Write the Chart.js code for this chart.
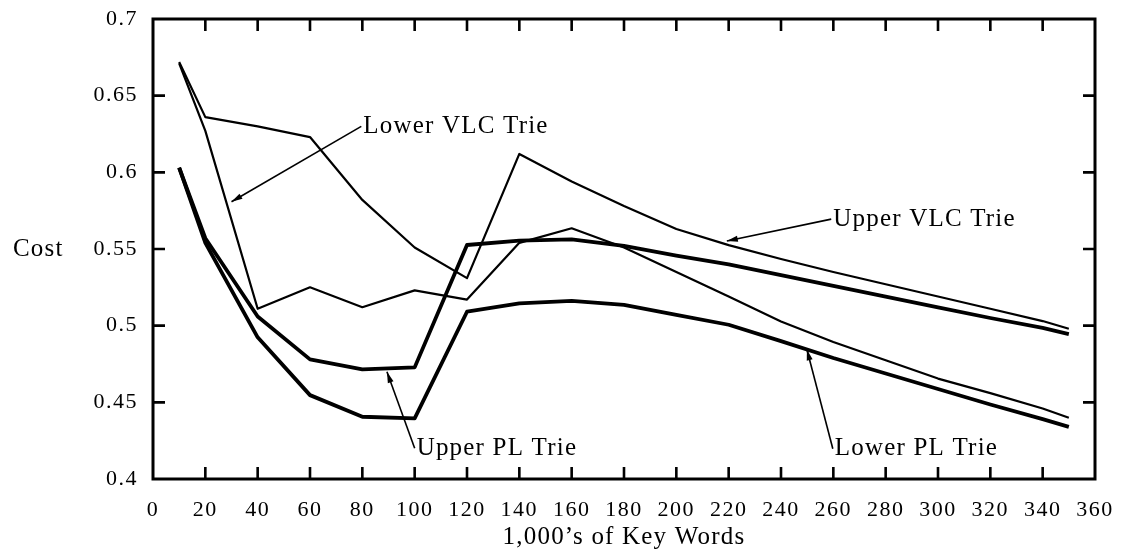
<!DOCTYPE html>
<html>
<head>
<meta charset="utf-8">
<script src="https://cdn.jsdelivr.net/npm/chart.js@4.4.1/dist/chart.umd.min.js"></script>
<style>
html,body{margin:0;padding:0;background:#fff;}
</style>
</head>
<body>
<canvas id="costChart" width="1125" height="550"></canvas>
<script>
// 1,000's of key words
const keyWords = [10,20,40,60,80,100,120,140,160,180,200,220,240,260,280,300,320,340,350];

const upperVLC = [0.672,0.636,0.630,0.623,0.582,0.551,0.531,0.612,0.594,0.578,0.563,0.5525,0.5435,0.535,0.527,0.519,0.511,0.503,0.498];
const lowerVLC = [0.671,0.627,0.511,0.525,0.512,0.523,0.517,0.554,0.5635,0.551,0.535,0.519,0.5027,0.4893,0.4774,0.4655,0.456,0.446,0.440];
const upperPL  = [0.603,0.557,0.506,0.478,0.4715,0.4728,0.5526,0.5555,0.5563,0.552,0.5457,0.540,0.533,0.526,0.519,0.512,0.505,0.4985,0.4945];
const lowerPL  = [0.603,0.554,0.4924,0.4547,0.4406,0.4395,0.5091,0.5145,0.5162,0.5135,0.507,0.5006,0.4899,0.4789,0.4688,0.4587,0.4486,0.439,0.434];

const xTicks = [0,20,40,60,80,100,120,140,160,180,200,220,240,260,280,300,320,340,360];
const yTicks = [0.4,0.45,0.5,0.55,0.6,0.65,0.7];

// labels with arrows: [x, cost] where the arrow starts, [x, cost] where it points
const notes = [
    {text:"Lower VLC Trie", from:[79.6,0.630], tip:[30,0.5808]},
    {text:"Upper VLC Trie", from:[259.2,0.5695], tip:[219.3,0.5552]},
    {text:"Upper PL Trie",  from:[100,0.4200], tip:[89.4,0.4699]},
    {text:"Lower PL Trie",  from:[259.8,0.4197], tip:[249.9,0.4845]}
];

const serif = "'Liberation Serif','Times New Roman',serif";

const toPts = ys => keyWords.map((x,i)=>({x:x, y:ys[i]}));

function arrow(ctx, x1, y1, x2, y2){
    ctx.beginPath();
    ctx.moveTo(x1,y1);
    ctx.lineTo(x2,y2);
    ctx.stroke();
    const a = Math.atan2(y2-y1, x2-x1);
    const len = 11, half = 3;
    const bx = x2 - len*Math.cos(a), by = y2 - len*Math.sin(a);
    ctx.beginPath();
    ctx.moveTo(x2,y2);
    ctx.lineTo(bx + half*Math.sin(a), by - half*Math.cos(a));
    ctx.lineTo(bx - half*Math.sin(a), by + half*Math.cos(a));
    ctx.closePath();
    ctx.fill();
}

/* frame, inward ticks, titles, notes */
const decor = {
    id:"decor",
    beforeDraw(chart){
        chart.ctx.letterSpacing = "1.5px";
    },
    afterDraw(chart){
        const ctx = chart.ctx;
        const a = chart.chartArea;
        const xs = chart.scales.x, ys = chart.scales.y;
        ctx.save();
        ctx.strokeStyle = "#000";
        ctx.fillStyle = "#000";

        ctx.lineWidth = 3;
        ctx.strokeRect(a.left, a.top, a.right-a.left, a.bottom-a.top);

        const tl = 12;
        ctx.lineWidth = 2.6;
        ctx.beginPath();
        xs.ticks.forEach(t=>{
            if(t.value<=xs.min || t.value>=xs.max) return;
            const px = xs.getPixelForValue(t.value);
            ctx.moveTo(px, a.bottom); ctx.lineTo(px, a.bottom-tl);
            ctx.moveTo(px, a.top); ctx.lineTo(px, a.top+tl);
        });
        ys.ticks.forEach(t=>{
            if(t.value<=ys.min+1e-9 || t.value>=ys.max-1e-9) return;
            const py = ys.getPixelForValue(t.value);
            ctx.moveTo(a.left, py); ctx.lineTo(a.left+tl, py);
            ctx.moveTo(a.right, py); ctx.lineTo(a.right-tl, py);
        });
        ctx.stroke();

        ctx.letterSpacing = "1.2px";
        ctx.font = "25px " + serif;
        ctx.textBaseline = "middle";
        ctx.textAlign = "left";
        ctx.fillText("Cost", 13, (a.top+a.bottom)/2);
        ctx.textAlign = "center";
        ctx.fillText("1,000\u2019s of Key Words", (a.left+a.right)/2, 537);

        ctx.textAlign = "left";
        ctx.lineWidth = 1.6;
        notes.forEach(n=>{
            const fx = xs.getPixelForValue(n.from[0]), fy = ys.getPixelForValue(n.from[1]);
            const tx = xs.getPixelForValue(n.tip[0]), ty = ys.getPixelForValue(n.tip[1]);
            arrow(ctx, fx, fy, tx, ty);
            ctx.fillText(n.text, fx+2, fy);
        });
        ctx.restore();
    }
};

const tickFont = {family:serif, size:22};

new Chart(document.getElementById("costChart"), {
    type:"line",
    data:{
        datasets:[
            {label:"Upper VLC Trie", data:toPts(upperVLC), borderWidth:2.2},
            {label:"Lower VLC Trie", data:toPts(lowerVLC), borderWidth:2.2},
            {label:"Upper PL Trie",  data:toPts(upperPL),  borderWidth:3.8},
            {label:"Lower PL Trie",  data:toPts(lowerPL),  borderWidth:3.8}
        ].map(d=>Object.assign(d, {
            borderColor:"#000",
            pointRadius:0,
            tension:0,
            fill:false,
            borderJoinStyle:"round"
        }))
    },
    options:{
        responsive:false,
        animation:false,
        layout:{padding:{top:19, right:30, left:0, bottom:0}},
        plugins:{legend:{display:false}, tooltip:{enabled:false}},
        scales:{
            x:{
                type:"linear",
                min:0, max:360,
                afterBuildTicks: s => { s.ticks = xTicks.map(v=>({value:v})); },
                afterFit: s => { s.height = 71; s.paddingLeft = 0; s.paddingRight = 0; },
                grid:{display:false},
                border:{display:false},
                ticks:{font:tickFont, color:"#000", padding:10, maxRotation:0, autoSkip:false}
            },
            y:{
                type:"linear",
                min:0.4, max:0.7,
                afterBuildTicks: s => { s.ticks = yTicks.map(v=>({value:v})); },
                afterFit: s => { s.width = 153; s.paddingTop = 0; s.paddingBottom = 0; },
                grid:{display:false},
                border:{display:false},
                ticks:{
                    font:tickFont, color:"#000", padding:7,
                    callback: v => String(+(+v).toFixed(2))
                }
            }
        }
    },
    plugins:[decor]
});
</script>
</body>
</html>
